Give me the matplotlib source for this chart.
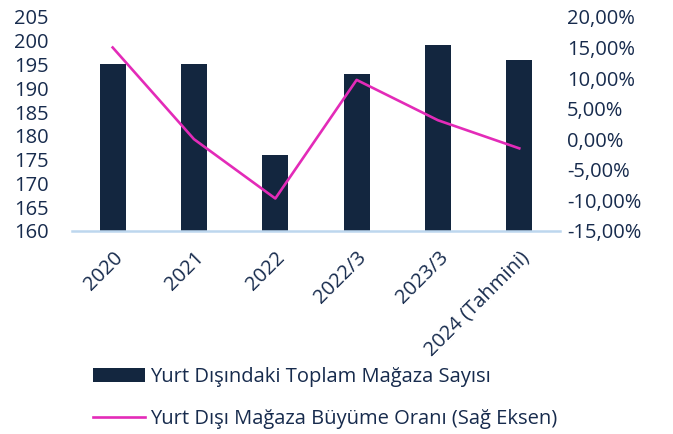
import matplotlib
matplotlib.use("Agg")
import matplotlib.pyplot as plt
from matplotlib.ticker import FuncFormatter

# data
categories = ["2020", "2021", "2022", "2022/3", "2023/3", "2024 (Tahmini)"]
store_counts = [195, 195, 176, 193, 199, 196]
growth_pct = [15.0, 0.0, -9.7, 9.7, 3.1, -1.5]

bar_color = "#13263F"
line_color = "#E32BB8"
text_color = "#172B4D"

plt.rcParams['font.family'] = ['Open Sans', 'DejaVu Sans']

fig = plt.figure(figsize=(6.73, 4.34), dpi=100)
ax = fig.add_axes([0.107, 0.468, 0.725, 0.493])
ax2 = ax.twinx()

x = list(range(len(categories)))
bars = ax.bar(x, store_counts, width=0.32, color=bar_color, label="Yurt Dışındaki Toplam Mağaza Sayısı", zorder=2)
line, = ax2.plot(x, growth_pct, color=line_color, lw=1.9, label="Yurt Dışı Mağaza Büyüme Oranı (Sağ Eksen)")

ax.set_xlim(-0.5, len(categories) - 0.5)
ax.set_ylim(160, 205)
ax.set_yticks(range(160, 206, 5))
ax2.set_ylim(-15, 20)
ax2.set_yticks(range(-15, 21, 5))
ax2.yaxis.set_major_formatter(FuncFormatter(lambda v, p: f"{v:.2f}%".replace(".", ",")))

ax.set_xticks(x)
ax.set_xticklabels(categories, rotation=45, ha='right', rotation_mode='anchor')

for a in (ax, ax2):
    for s in a.spines.values():
        s.set_visible(False)
    a.tick_params(length=0, colors=text_color, labelsize=14.5)
ax.spines['bottom'].set_visible(True)
ax.spines['bottom'].set_color("#BDD7EE")
ax.spines['bottom'].set_linewidth(1.8)
ax.tick_params(axis='x', pad=12)
ax.tick_params(axis='y', pad=17)
ax2.tick_params(axis='y', pad=5)

fig.legend([bars, line], [bars.get_label(), line.get_label()],
           loc='upper left', bbox_to_anchor=(0.111, 0.195), frameon=False,
           fontsize=14.5, labelcolor=text_color, handlelength=2.6,
           handleheight=0.7, labelspacing=1.05, handletextpad=0.25)

fig.savefig("out.png", dpi=100)
